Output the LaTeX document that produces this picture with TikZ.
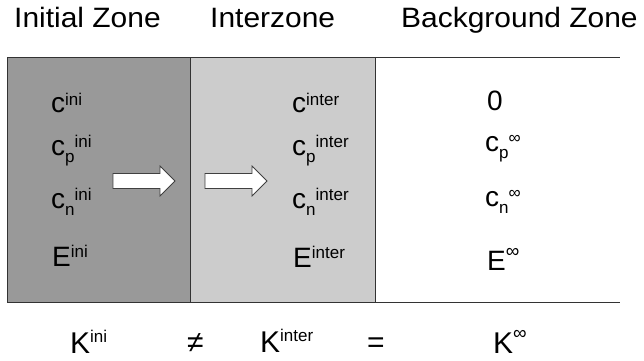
\documentclass[tikz,border=0pt]{standalone}
\usepackage{fontspec}
\setmainfont{Liberation Sans}
\usepackage{graphicx}
\newcommand{\upx}[2][8pt]{\raisebox{#1}{\fontsize{17}{17}\selectfont #2}}
\newcommand{\dnx}[1]{\raisebox{-7pt}{\fontsize{17}{17}\selectfont #1}}
\newcommand{\infx}[2][19]{\raisebox{#2}{\fontsize{#1}{#1}\selectfont ∞}}
\newcommand{\wide}[1]{\scalebox{1.07}[1]{#1}}
\begin{document}
\begin{tikzpicture}[x=1pt,y=-1pt,
  lbl/.style={anchor=base west, inner sep=0pt, font=\fontsize{28}{28}\selectfont},
  ttl/.style={anchor=base west, inner sep=0pt, font=\fontsize{28}{28}\selectfont},
  btm/.style={anchor=base west, inner sep=0pt, font=\fontsize{30}{30}\selectfont},
  zoneline/.style={draw=black!80, line width=1pt},
  blockarrow/.style={draw=black!75, fill=white, line width=0.8pt, line join=miter}]
\useasboundingbox (0,0) rectangle (644,360);
% zones
\path[zoneline, fill=black!40] (7,57) rectangle (190,302);
\path[zoneline, fill=black!20] (190,57) rectangle (375,302);
\draw[zoneline] (375,57) -- (620,57);
\draw[zoneline] (375,302) -- (620,302);
% titles
\node[ttl] (t1) at (14,27) {\wide{Initial Zone}};
\node[ttl] (t2) at (210,27) {\wide{Interzone}};
\node[ttl] (t3) at (401,27) {\wide{Background Zone}};
% initial column
\node[lbl] (ci)  at (51,112) {c\upx[7pt]{ini}};
\node[lbl] (cpi) at (51,155) {c\dnx{p}\upx{ini}};
\node[lbl] (cni) at (51,208) {c\dnx{n}\upx{ini}};
\node[lbl] (ei)  at (52,266) {E\upx[9pt]{ini}};
% interzone column
\node[lbl] (cz)  at (292,112) {c\upx[7pt]{inter}};
\node[lbl] (cpz) at (292,155) {c\dnx{p}\upx{inter}};
\node[lbl] (cnz) at (292,208) {c\dnx{n}\upx{inter}};
\node[lbl] (ez)  at (293,267) {E\upx[9pt]{inter}};
% background column
\node[lbl] (cb)  at (487,110) {0};
\node[lbl] (cpb) at (485,151) {c\dnx{p}\infx[17]{8pt}};
\node[lbl] (cnb) at (485,206) {c\dnx{n}\infx[17]{8pt}};
\node[lbl] (eb)  at (487,270) {E\infx{13pt}};
% block arrows
\draw[blockarrow] (113,173.5) -- (160,173.5) -- (160,166) -- (175,181) -- (160,196) -- (160,188.5) -- (113,188.5) -- cycle;
\draw[blockarrow] (205,173.5) -- (252,173.5) -- (252,166) -- (267,181) -- (252,196) -- (252,188.5) -- (205,188.5) -- cycle;
% bottom relation
\node[btm] (ki) at (70,353) {K\upx[11pt]{ini}};
\node[btm] (ne) at (187,352) {≠};
\node[btm] (kz) at (260,352) {K\upx[11pt]{inter}};
\node[btm] (eq) at (367,352) {=};
\node[btm] (kb) at (493,353) {K\infx{14pt}};
\end{tikzpicture}
\end{document}
